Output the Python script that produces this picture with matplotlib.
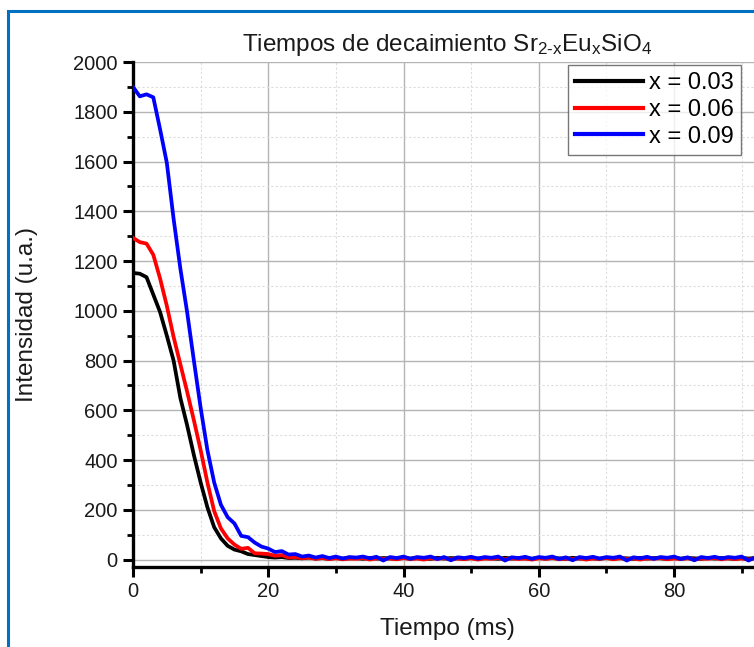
import numpy as np
import matplotlib
matplotlib.use("Agg")
import matplotlib.pyplot as plt
from matplotlib.patches import Rectangle
from matplotlib.ticker import MultipleLocator

plt.rcParams['font.family'] = ['Liberation Sans', 'DejaVu Sans']
plt.rcParams['mathtext.fontset'] = 'custom'
plt.rcParams['mathtext.rm'] = 'Liberation Sans'
plt.rcParams['mathtext.default'] = 'regular'

labels = ["x = 0.03", "x = 0.06", "x = 0.09"]
colors = ["#000000", "#ff0000", "#0000ff"]

int_003 = [1152, 1149, 1135, 1065, 995, 900, 800, 650, 540, 420, 310, 210, 130, 85, 55, 40, 33, 22, 18, 14, 10,
           8, 10, 6, 7, 5, 8, 4, 6, 3, 7, 4, 5, 6, 3, 7, 4, 6, 5, 3, 7, 4, 6, 5, 3, 7, 4, 6, 5, 3, 7, 4, 6,
           5, 3, 7, 4, 6, 5, 3, 7, 4, 6, 5, 3, 7, 4, 6, 5, 3, 7, 4, 6, 5, 3, 7, 4, 6, 5, 3, 7, 4, 6, 5, 3,
           7, 4, 6, 5, 3, 7, 4, 6]
int_006 = [1293, 1276, 1270, 1225, 1130, 1020, 895, 785, 675, 560, 440, 310, 195, 125, 85, 60, 43, 47, 25, 24, 22,
           15, 18, 8, 10, 5, 8, 3, 6, 2, 5, 1, 4, 3, 6, 0, 5, 2, 4, 1, 6, 2, 4, 0, 5, 3, 6, 1, 4, 2, 5, 0, 4,
           3, 6, 1, 5, 2, 4, 0, 5, 3, 6, 1, 4, 2, 5, 0, 4, 3, 6, 1, 5, 2, 4, 0, 5, 3, 6, 1, 4, 2, 5, 0, 4,
           3, 6, 1, 5, 2, 4, 0, 5]
int_009 = [1900, 1862, 1870, 1858, 1730, 1595, 1370, 1170, 995, 800, 610, 440, 310, 220, 170, 145, 95, 90, 68, 52, 44,
           30, 34, 20, 22, 12, 16, 8, 14, 6, 12, 4, 10, 8, 12, 5, 11, -4, 10, 6, 12, 3, 10, 7, 12, 2, 10, -3,
           9, 6, 11, 4, 10, 7, 12, -4, 9, 6, 11, 3, 10, 7, 12, 2, 9, -3, 10, 6, 11, 4, 10, 7, 12, -4, 9, 5,
           11, 3, 10, 7, 12, 2, 9, -3, 10, 6, 11, 4, 10, 7, 12, -4, 9]
series = [int_003, int_006, int_009]
time_step_ms = 1.0

W, H = 754, 647
fig = plt.figure(figsize=(W / 100, H / 100), dpi=100)
ax_w_px = (W - 133) + 8
ax = fig.add_axes([133 / W, 1 - 567 / H, ax_w_px / W, (567 - 62) / H])

for vals, lab, c in zip(series, labels, colors):
    t = np.arange(len(vals)) * time_step_ms
    ax.plot(t, vals, color=c, lw=2.7, label=lab, zorder=3)

ax.set_xlim(0, 93)
ax.set_ylim(-30, 2000)
ax.xaxis.set_major_locator(MultipleLocator(20))
ax.xaxis.set_minor_locator(MultipleLocator(10))
ax.yaxis.set_major_locator(MultipleLocator(200))
ax.yaxis.set_minor_locator(MultipleLocator(100))

ax.grid(which='major', color='#b4b4b4', lw=1.0, ls='-')
ax.grid(which='minor', color='#dcdcdc', lw=0.8, ls=(0, (2, 2)))
ax.set_axisbelow(True)

for s in ['top', 'right']:
    ax.spines[s].set_visible(False)
for s in ['left', 'bottom']:
    ax.spines[s].set_linewidth(2.4)
    ax.spines[s].set_color('black')

ax.tick_params(which='major', direction='out', length=7, width=2.2, labelsize=14.5, colors='black',
               labelcolor='#1a1a1a')
ax.tick_params(which='minor', direction='out', length=4.5, width=2.0)
ax.tick_params(axis='x', pad=4)
ax.tick_params(axis='y', pad=4)

ax.set_xlabel("Tiempo (ms)", fontsize=17.5, labelpad=12, color='#1a1a1a')
ax.set_ylabel("Intensidad (u.a.)", fontsize=17.5, labelpad=25, color='#1a1a1a')
ax.set_title(r"Tiempos de decaimiento Sr$_{2\text{-}x}$Eu$_{x}$SiO$_{4}$", fontsize=17.5, pad=8, color='#1a1a1a')

leg = ax.legend(loc='upper right', bbox_to_anchor=((741 - 133) / ax_w_px, 1 - 3 / 505),
                fontsize=17, frameon=True, fancybox=False, handlelength=2.9, handletextpad=0.25,
                borderpad=0.3, labelspacing=0.2, borderaxespad=0)
leg.get_frame().set_edgecolor('#555555')
leg.get_frame().set_linewidth(1.0)
for line in leg.get_lines():
    line.set_linewidth(3)

fig.patches.append(Rectangle((8 / W, -0.05), 1.1, 1 - 11 / H + 0.05, transform=fig.transFigure,
                             fill=False, edgecolor='#0070c0', lw=2.2, zorder=10))

fig.savefig("out.png", dpi=100)
